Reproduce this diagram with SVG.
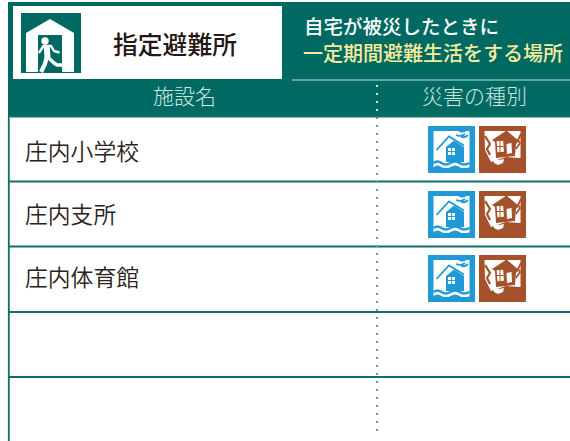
<svg xmlns="http://www.w3.org/2000/svg" width="570" height="441" viewBox="0 0 570 441">
<style>
text{font-family:"Noto Sans CJK JP","Noto Sans",sans-serif}
.row{font-size:22.800px;fill:#2b2320;font-weight:350}
.hd{font-size:21px;fill:#cfe4e1;font-weight:300}
.ln{stroke:#0f706a;stroke-width:1.800;fill:none}
.w{fill:#fff}
.b{fill:#209ad6}
.r{fill:#a4512c}
</style>
<defs>
<g id="flood">
<rect width="47" height="47" class="b"/>
<path d="M5.500 5H41.500V42H5.500Z" class="w"/>
<path d="M18 36V21L26 14.500L36 21V36Z" class="b"/>
<path d="M8.500 24L21 10.500L36 19.500" stroke="#209ad6" stroke-width="1.800" fill="none"/>
<rect x="20" y="22" width="7" height="7" class="w"/>
<path d="M23.500 22V29M20 25.500H27" stroke="#209ad6" stroke-width="1"/>
<path d="M28 9q5 2 9-1M31 5q5 2 8-2M33 11q4 1 7-2" stroke="#209ad6" stroke-width="1.800" fill="none"/>
<path d="M5.500 37q4-3 8 0t9 0t9 0t10 0" stroke="#209ad6" stroke-width="2.500" fill="none"/>
<path d="M5.500 41q4-3 8 0t9 0t9 0t10 0V43H5.500Z" class="b"/>
</g>
<g id="quake">
<rect width="47" height="47" class="r"/>
<path d="M5.500 5H41.500V32L27 31L12 36L6 24Z" class="w"/>
<path d="M13 14L27.500 4.500L40 15L37 18L36 30L17 32L16 16Z" class="r"/>
<rect x="18" y="15" width="6.500" height="11" class="w" transform="rotate(-4 21 20)"/>
<path d="M21 15V26M18 20.500H24.500" stroke="#a4512c" stroke-width="1"/>
<path d="M27.500 18L32.500 17L33 27L28 28Z" class="w"/>
<path d="M6 10L11 18L8 23L11 29" stroke="#a4512c" stroke-width="2.200" fill="none"/>
<path d="M42 8L39 14L41 17L37 23" stroke="#a4512c" stroke-width="1.800" fill="none"/>
<path d="M14 33L20 34L25 33L24 37L19 39L15 37Z" class="w"/>
</g>
</defs>
<rect width="570" height="441" class="w"/>
<g id="header">
<rect x="8" y="2" width="562" height="114" fill="#006a62"/>
<rect x="13" y="6" width="269" height="73" class="w"/>
<rect x="21" y="13" width="60" height="60" fill="#006a62"/>
<path d="M26 72V33L50 19L74 33V72Z" class="w"/>
<rect x="38" y="35" width="24" height="37" fill="#006a62"/>
<path d="M62 62.500H66V72H62Z" class="w"/>
<g stroke="#fff" fill="none" stroke-linejoin="round">
<path d="M38.800 53L43.500 46H51L54 51L59.500 52.500" stroke-width="2.400"/>
<path d="M46.800 46L47.500 58" stroke-width="6"/>
<path d="M47 57L44.500 65L41 72" stroke-width="4.200"/>
<path d="M47.500 57L54 63L57 65H65.500" stroke-width="3.500"/>
</g>
<circle cx="45" cy="41" r="3.700" class="w"/>
<text x="175" y="54" font-size="24.800" font-weight="500" fill="#231815" text-anchor="middle">指定避難所</text>
<text x="304" y="34" font-size="19.500" font-weight="500" fill="#fff">自宅が被災したときに</text>
<text x="303" y="61" font-size="20" font-weight="500" fill="#f7ec9a" textLength="260" lengthAdjust="spacingAndGlyphs">一定期間避難生活をする場所</text>
<path d="M292 80H570" stroke="#c9e0dd" stroke-width="1"/>
<text x="184.500" y="104" class="hd" text-anchor="middle">施設名</text>
<text x="474.500" y="104" class="hd" text-anchor="middle">災害の種別</text>
</g>
<g id="connectors">
<path class="ln" d="M8.800 116V441M8 116.500H570M8 181.500H570M8 246.500H570M8 312H570M8 377H570"/>
<path d="M377 85V116" stroke="#cfe4e1" stroke-width="2" stroke-dasharray="2 6"/>
<path d="M377 117V437" stroke="#5f9d97" stroke-width="2" stroke-dasharray="2 6"/>
</g>
<g id="row1"><text x="25" y="160" class="row">庄内小学校</text><use href="#flood" x="428" y="126"/><use href="#quake" x="479" y="126"/></g>
<g id="row2"><text x="25" y="223" class="row">庄内支所</text><use href="#flood" x="428" y="191"/><use href="#quake" x="479" y="191"/></g>
<g id="row3"><text x="25" y="286" class="row">庄内体育館</text><use href="#flood" x="428" y="255"/><use href="#quake" x="479" y="255"/></g>
</svg>
